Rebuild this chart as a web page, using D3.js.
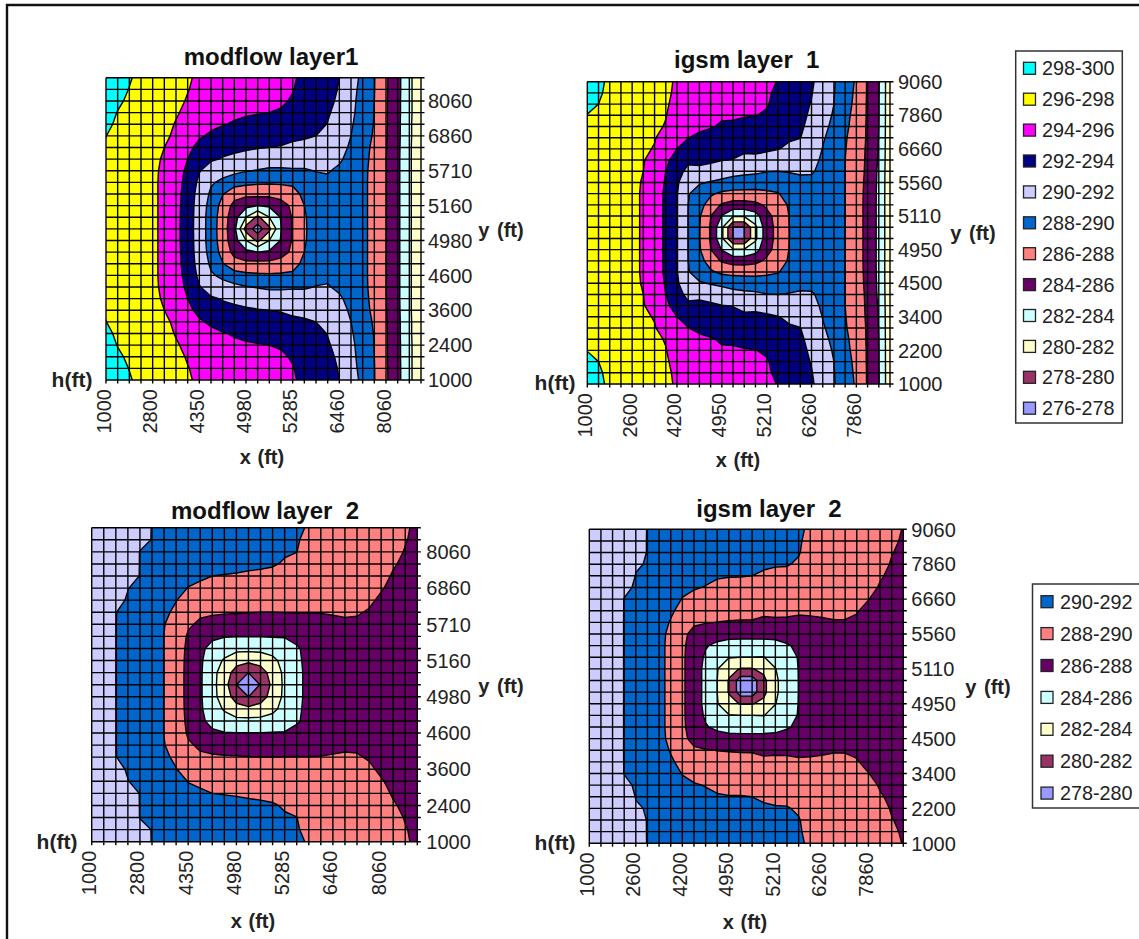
<!DOCTYPE html>
<html><head><meta charset="utf-8">
<script src="https://cdn.jsdelivr.net/npm/d3@7"></script>
<style>html,body{margin:0;background:#fff}svg{display:block}text{font-family:"Liberation Sans",Arial,sans-serif}</style>
</head><body><div id="c"></div>
<script>
const xLabelsModflow=["1000","2800","4350","4980","5285","6460","8060"];
const yLabelsModflow=["8060","6860","5710","5160","4980","4600","3600","2400","1000"];
const xLabelsIgsm=["1000","2600","4200","4950","5210","6260","7860"];
const yLabelsIgsm=["9060","7860","6660","5560","5110","4950","4500","3400","2200","1000"];
const legend1=["298-300","296-298","294-296","292-294","290-292","288-290","286-288","284-286","282-284","280-282","278-280","276-278"];
const legend2=["290-292","288-290","286-288","284-286","282-284","280-282","278-280"];
const bandColors1=["#00FFFF","#FFFF00","#FF00FF","#000080","#CCCCFF","#0066CC","#FF8080","#660066","#CCFFFF","#FFFFCC","#993366","#9999FF"];
const bandColors2=["#0066CC","#FF8080","#660066","#CCFFFF","#FFFFCC","#993366","#9999FF"];
const extraBand2="#CCCCFF";
// head (ft) at each grid node, one array per grid column, top row first
const modflowLayer1=[
[298.9,298.7,298.5,298.35,298.2,298.01,297.95,297.9,297.9,297.9,297.9,297.9,297.9,297.9,297.9,297.9,297.9,297.9,297.9,297.9,297.95,298.01,298.2,298.35,298.5,298.7,298.9],
[298.5,298.35,298.15,297.97,297.85,297.75,297.7,297.65,297.6,297.6,297.6,297.6,297.6,297.6,297.6,297.6,297.6,297.6,297.6,297.65,297.7,297.75,297.85,297.97,298.15,298.35,298.5],
[298.1,297.97,297.85,297.7,297.55,297.4,297.3,297.25,297.2,297.2,297.2,297.2,297.2,297.2,297.2,297.2,297.2,297.2,297.2,297.25,297.3,297.4,297.55,297.7,297.85,297.97,298.1],
[297.7,297.6,297.45,297.25,297.05,296.9,296.85,296.8,296.8,296.8,296.8,296.8,296.8,296.8,296.8,296.8,296.8,296.8,296.8,296.8,296.85,296.9,297.05,297.25,297.45,297.6,297.7],
[297.3,297.2,297,296.8,296.6,296.45,296.4,296.4,296.4,296.4,296.4,296.4,296.4,296.4,296.4,296.4,296.4,296.4,296.4,296.4,296.4,296.45,296.6,296.8,297,297.2,297.3],
[296.9,296.8,296.7,296.6,296.45,296.25,296,295.8,295.6,295.5,295.5,295.5,295.5,295.5,295.5,295.5,295.5,295.5,295.6,295.8,296,296.25,296.45,296.6,296.7,296.8,296.9],
[296.5,296.4,296.3,296.15,295.9,295.75,295.4,295.1,294.9,294.8,294.7,294.65,294.6,294.6,294.6,294.65,294.7,294.8,294.9,295.1,295.4,295.75,295.9,296.15,296.3,296.4,296.5],
[296.1,296.05,295.9,295.65,295.3,295,294.4,294,293.6,293.3,293.1,293,292.95,292.9,292.95,293,293.1,293.3,293.6,294,294.4,295,295.3,295.65,295.9,296.05,296.1],
[295.85,295.7,295.5,295.2,294.8,294.2,293.55,292.9,292.1,291.6,291.3,291.15,291.1,291.1,291.1,291.15,291.3,291.6,292.1,292.9,293.55,294.2,294.8,295.2,295.5,295.7,295.85],
[295.65,295.5,295.3,295,294.35,293.75,292.9,292.2,291.2,290.2,289.7,289.3,289.1,289.07,289.1,289.3,289.7,290.2,291.2,292.2,292.9,293.75,294.35,295,295.3,295.5,295.65],
[295.43,295.3,295.05,294.6,294.1,293.3,292.4,291.9,290.6,289.65,288.1,287.3,287,286.93,287,287.3,288.1,289.65,290.6,291.9,292.4,293.3,294.1,294.6,295.05,295.3,295.43],
[295.2,295,294.8,294.3,293.85,293.1,292.4,291.6,290.5,288.8,286.8,285.4,284.8,284.6,284.8,285.4,286.8,288.8,290.5,291.6,292.4,293.1,293.85,294.3,294.8,295,295.2],
[295,294.75,294.5,294.2,293.6,292.95,292.3,291.2,290.1,288.5,286.5,284.5,282,279.2,282,284.5,286.5,288.5,290.1,291.2,292.3,292.95,293.6,294.2,294.5,294.75,295],
[294.8,294.6,294.35,294.1,293.45,292.8,292.1,291.1,289.9,288.3,286.6,284,279.5,277,279.5,284,286.6,288.3,289.9,291.1,292.1,292.8,293.45,294.1,294.35,294.6,294.8],
[294.56,294.4,294.2,294,293.3,292.65,292,290.9,289.7,288.25,286.55,284.3,282,279.5,282,284.3,286.55,288.25,289.7,290.9,292,292.65,293.3,294,294.2,294.4,294.56],
[294.35,294.2,294.15,293.9,293.3,292.5,291.9,290.75,289.75,288.3,286.8,285.2,284.15,283.9,284.15,285.2,286.8,288.3,289.75,290.75,291.9,292.5,293.3,293.9,294.15,294.2,294.35],
[294.13,294.05,293.9,293.5,293,292.3,291.7,290.65,289.85,288.3,287.4,286.4,286.2,286.2,286.2,286.4,287.4,288.3,289.85,290.65,291.7,292.3,293,293.5,293.9,294.05,294.13],
[293.76,293.6,293.4,293.2,292.85,292.2,291.55,290.6,289.85,288.95,288.4,288,287.8,287.75,287.8,288,288.4,288.95,289.85,290.6,291.55,292.2,292.85,293.2,293.4,293.6,293.76],
[293.18,293.05,292.85,292.65,292.4,292,291.4,290.6,290.05,289.55,289.2,289,288.9,288.9,288.9,289,289.2,289.55,290.05,290.6,291.4,292,292.4,292.65,292.85,293.05,293.18],
[292.6,292.5,292.35,292.15,291.95,291.5,291.1,290.6,290.1,289.75,289.5,289.45,289.4,289.4,289.4,289.45,289.5,289.75,290.1,290.6,291.1,291.5,291.95,292.15,292.35,292.5,292.6],
[292,291.9,291.75,291.55,291.3,291,290.6,290.2,289.75,289.6,289.5,289.5,289.5,289.5,289.5,289.5,289.5,289.6,289.75,290.2,290.6,291,291.3,291.55,291.75,291.9,292],
[290.82,290.65,290.5,290.4,290.2,290,289.75,289.55,289.4,289.4,289.4,289.4,289.4,289.4,289.4,289.4,289.4,289.4,289.4,289.55,289.75,290,290.2,290.4,290.5,290.65,290.82],
[289.56,289.4,289.3,289.2,289.1,289,288.8,288.65,288.55,288.5,288.5,288.5,288.5,288.5,288.5,288.5,288.5,288.5,288.55,288.65,288.8,289,289.1,289.2,289.3,289.4,289.56],
[288.07,288.05,288,287.95,287.9,287.75,287.5,287.4,287.3,287.3,287.3,287.3,287.3,287.3,287.3,287.3,287.3,287.3,287.3,287.4,287.5,287.75,287.9,287.95,288,288.05,288.07],
[286.27,286.25,286.2,286.2,286.2,286.15,286.1,286.05,286.05,286.05,286.05,286.05,286.05,286.05,286.05,286.05,286.05,286.05,286.05,286.05,286.1,286.15,286.2,286.2,286.2,286.25,286.27],
[284.6,284.6,284.55,284.55,284.5,284.5,284.45,284.4,284.4,284.4,284.4,284.4,284.4,284.4,284.4,284.4,284.4,284.4,284.4,284.4,284.45,284.5,284.5,284.55,284.55,284.6,284.6],
[282.3,282.3,282.3,282.3,282.25,282.25,282.2,282.2,282.2,282.2,282.2,282.2,282.2,282.2,282.2,282.2,282.2,282.2,282.2,282.2,282.2,282.25,282.25,282.3,282.3,282.3,282.3],
[281,281,281,281,281,281,281,281,281,281,281,281,281,281,281,281,281,281,281,281,281,281,281,281,281,281,281]];
const igsmLayer1=[
[298.6,298.4,298.2,297.98,297.95,297.9,297.9,297.9,297.9,297.9,297.9,297.9,297.9,297.9,297.9,297.9,297.9,297.9,297.9,297.9,297.9,297.9,297.9,297.95,297.98,298.2,298.4,298.6],
[298.35,298.2,298,297.8,297.75,297.7,297.65,297.6,297.6,297.6,297.6,297.6,297.6,297.6,297.6,297.6,297.6,297.6,297.6,297.6,297.6,297.65,297.7,297.75,297.8,298,298.2,298.35],
[297.7,297.65,297.55,297.45,297.4,297.35,297.3,297.25,297.2,297.2,297.2,297.2,297.2,297.2,297.2,297.2,297.2,297.2,297.2,297.2,297.25,297.3,297.35,297.4,297.45,297.55,297.65,297.7],
[297.35,297.3,297.2,297.1,297,296.95,296.9,296.85,296.8,296.8,296.8,296.8,296.8,296.8,296.8,296.8,296.8,296.8,296.8,296.8,296.85,296.9,296.95,297,297.1,297.2,297.3,297.35],
[297,296.95,296.85,296.75,296.65,296.55,296.45,296.4,296.3,296.3,296.3,296.3,296.3,296.3,296.3,296.3,296.3,296.3,296.3,296.3,296.4,296.45,296.55,296.65,296.75,296.85,296.95,297],
[296.7,296.65,296.55,296.5,296.4,296.3,296.25,296.1,296,295.9,295.85,295.85,295.85,295.85,295.85,295.85,295.85,295.85,295.9,296,296.1,296.25,296.3,296.4,296.5,296.55,296.65,296.7],
[296.4,296.35,296.3,296.2,296.15,296.1,295.9,295.3,294.9,294.6,294.45,294.4,294.4,294.4,294.4,294.4,294.4,294.45,294.6,294.9,295.3,295.9,296.1,296.15,296.2,296.3,296.35,296.4],
[296.25,296.2,296.1,296.03,295.95,295.35,294.9,294.4,294,293.9,293.85,293.85,293.85,293.85,293.85,293.85,293.85,293.85,293.9,294,294.4,294.9,295.35,295.95,296.03,296.1,296.2,296.25],
[295.85,295.8,295.75,295.6,295.2,294.6,294,293.2,292.55,292.25,292.1,292.1,292.1,292.1,292.1,292.1,292.1,292.1,292.25,292.55,293.2,294,294.6,295.2,295.6,295.75,295.8,295.85],
[295.6,295.55,295.45,295.25,294.75,294.05,293.2,292.3,291.6,290.7,290.1,290,289.97,289.97,289.97,289.97,290,290.1,290.7,291.6,292.3,293.2,294.05,294.75,295.25,295.45,295.55,295.6],
[295.4,295.3,295.2,294.95,294.4,293.6,293,292.4,291.6,290.15,289.3,288.7,288.2,288.1,288.1,288.2,288.7,289.3,290.15,291.6,292.4,293,293.6,294.4,294.95,295.2,295.3,295.4],
[295.2,295.1,295,294.6,294.1,293.5,292.95,292.4,291,289.9,288.3,287.1,286.05,285.8,285.8,286.05,287.1,288.3,289.9,291,292.4,292.95,293.5,294.1,294.6,295,295.1,295.2],
[295,294.85,294.7,294.15,293.85,293.3,292.6,292.05,290.8,289.65,287.6,285.8,283.9,282.4,282.4,283.9,285.8,287.6,289.65,290.8,292.05,292.6,293.3,293.85,294.15,294.7,294.85,295],
[294.8,294.65,294.45,294.2,293.75,293.1,292.4,291.95,290.6,289.3,287.4,285.2,282.2,277.95,277.95,282.2,285.2,287.4,289.3,290.6,291.95,292.4,293.1,293.75,294.2,294.45,294.65,294.8],
[294.65,294.5,294.3,294.1,293.55,292.95,292.25,291.65,290.4,289.2,287.35,285.2,282.2,277.95,277.95,282.2,285.2,287.35,289.2,290.4,291.65,292.25,292.95,293.55,294.1,294.3,294.5,294.65],
[294.5,294.35,294.15,294.03,293.4,292.8,292.25,291.7,290.3,289.1,287.35,285.5,283.2,281.6,281.6,283.2,285.5,287.35,289.1,290.3,291.7,292.25,292.8,293.4,294.03,294.15,294.35,294.5],
[294.3,294.15,294.1,293.85,293.3,292.8,292.15,291.6,290.05,289,287.6,286.3,285.45,285.2,285.2,285.45,286.3,287.6,289,290.05,291.6,292.15,292.8,293.3,293.85,294.1,294.15,294.3],
[293.95,293.8,293.6,293.4,293,292.5,292.05,291.3,290,288.9,287.9,287.1,286.65,286.53,286.53,286.65,287.1,287.9,288.9,290,291.3,292.05,292.5,293,293.4,293.6,293.8,293.95],
[293.4,293.25,293.05,292.85,292.55,292.15,291.75,291,290.1,289.2,288.6,288.2,288.02,287.97,287.97,288.02,288.2,288.6,289.2,290.1,291,291.75,292.15,292.55,292.85,293.05,293.25,293.4],
[292.85,292.75,292.6,292.45,292.25,292.03,291.5,290.95,290.2,289.6,289.1,288.9,288.8,288.8,288.8,288.8,288.9,289.1,289.6,290.2,290.95,291.5,292.03,292.25,292.45,292.6,292.75,292.85],
[292.3,292.1,291.9,291.7,291.5,291.2,290.9,290.6,290.2,289.5,289.3,289.2,289.2,289.2,289.2,289.2,289.2,289.3,289.5,290.2,290.6,290.9,291.2,291.5,291.7,291.9,292.1,292.3],
[291,290.9,290.75,290.6,290.4,290.15,289.95,289.7,289.5,289.4,289.35,289.35,289.35,289.35,289.35,289.35,289.35,289.35,289.4,289.5,289.7,289.95,290.15,290.4,290.6,290.75,290.9,291],
[290.2,290.1,290,289.85,289.65,289.45,289.25,289.15,289.2,289.2,289.2,289.2,289.2,289.2,289.2,289.2,289.2,289.2,289.2,289.2,289.15,289.25,289.45,289.65,289.85,290,290.1,290.2],
[288.4,288.35,288.3,288.25,288.2,288.1,288.05,288,287.97,287.97,287.97,287.97,287.97,287.97,287.97,287.97,287.97,287.97,287.97,287.97,288,288.05,288.1,288.2,288.25,288.3,288.35,288.4],
[287.9,287.85,287.8,287.7,287.6,287.5,287.4,287.3,287.2,287.1,287,287,287,287,287,287,287,287,287.1,287.2,287.3,287.4,287.5,287.6,287.7,287.8,287.85,287.9],
[285.8,285.8,285.75,285.75,285.7,285.7,285.6,285.55,285.5,285.4,285.35,285.3,285.3,285.3,285.3,285.3,285.3,285.35,285.4,285.5,285.55,285.6,285.7,285.7,285.75,285.75,285.8,285.8],
[284.1,284.1,284.05,284.05,284,283.95,283.9,283.8,283.7,283.65,283.6,283.6,283.6,283.6,283.6,283.6,283.6,283.6,283.65,283.7,283.8,283.9,283.95,284,284.05,284.05,284.1,284.1],
[280.6,280.6,280.6,280.6,280.6,280.6,280.6,280.6,280.6,280.6,280.6,280.6,280.6,280.6,280.6,280.6,280.6,280.6,280.6,280.6,280.6,280.6,280.6,280.6,280.6,280.6,280.6,280.6]];
const modflowLayer2=[
[293.2,293.15,293.1,293.05,293,292.95,292.9,292.85,292.8,292.8,292.8,292.8,292.8,292.8,292.8,292.8,292.8,292.8,292.8,292.85,292.9,292.95,293,293.05,293.1,293.15,293.2],
[293,292.95,292.9,292.85,292.8,292.7,292.6,292.5,292.4,292.4,292.4,292.4,292.4,292.4,292.4,292.4,292.4,292.4,292.4,292.5,292.6,292.7,292.8,292.85,292.9,292.95,293],
[292.8,292.75,292.7,292.65,292.6,292.4,292.3,292.03,292.03,292.03,292.03,292.03,292.03,292.03,292.03,292.03,292.03,292.03,292.03,292.03,292.3,292.4,292.6,292.65,292.7,292.75,292.8],
[292.5,292.5,292.45,292.4,292.3,292.03,291.9,291.6,291.4,291.4,291.4,291.4,291.4,291.4,291.4,291.4,291.4,291.4,291.4,291.6,291.9,292.03,292.3,292.4,292.45,292.5,292.5],
[292.25,292.2,291.98,291.98,291.98,291.7,291.5,291.2,291,291,291,291,291,291,291,291,291,291,291,291.2,291.5,291.7,291.98,291.98,291.98,292.2,292.25],
[291.98,291.98,291.8,291.65,291.5,291.3,291.1,290.9,290.7,290.6,290.6,290.6,290.6,290.6,290.6,290.6,290.6,290.6,290.7,290.9,291.1,291.3,291.5,291.65,291.8,291.98,291.98],
[291.8,291.65,291.45,291.25,291.05,290.85,290.55,290.3,290.05,289.98,289.98,289.98,289.98,289.98,289.98,289.98,289.98,289.98,290.05,290.3,290.55,290.85,291.05,291.25,291.45,291.65,291.8],
[291.65,291.5,291.25,291,290.65,290.35,290.05,289.7,289.45,289.3,289.3,289.3,289.3,289.3,289.3,289.3,289.3,289.3,289.45,289.7,290.05,290.35,290.65,291,291.25,291.5,291.65],
[291.5,291.3,291.05,290.75,290.25,289.97,289.4,288.9,288.25,287.75,287.5,287.35,287.3,287.3,287.3,287.35,287.5,287.75,288.25,288.9,289.4,289.97,290.25,290.75,291.05,291.3,291.5],
[291.35,291.15,290.9,290.6,290.15,289.8,289.2,288.3,287.7,287,286.5,286.3,286.25,286.25,286.25,286.3,286.5,287,287.7,288.3,289.2,289.8,290.15,290.6,290.9,291.15,291.35],
[291.2,291,290.75,290.45,290,289.6,289,288.25,287.3,286.4,285.3,284.85,284.65,284.6,284.65,284.85,285.3,286.4,287.3,288.25,289,289.6,290,290.45,290.75,291,291.2],
[291.05,290.9,290.65,290.35,289.95,289.45,288.85,288.15,287.2,286.1,284.8,283.8,283,282.86,283,283.8,284.8,286.1,287.2,288.15,288.85,289.45,289.95,290.35,290.65,290.9,291.05],
[290.9,290.75,290.55,290.3,289.9,289.3,288.75,288.1,287.15,286.05,284.55,282.7,281.2,280,281.2,282.7,284.55,286.05,287.15,288.1,288.75,289.3,289.9,290.3,290.55,290.75,290.9],
[290.75,290.6,290.45,290.27,289.8,289.2,288.65,288.05,287.1,286.03,284.55,282.45,280,278.5,280,282.45,284.55,286.03,287.1,288.05,288.65,289.2,289.8,290.27,290.45,290.6,290.75],
[290.6,290.5,290.35,290.2,289.75,289.15,288.6,288,287.1,286.05,284.6,282.7,281.2,280.1,281.2,282.7,284.6,286.05,287.1,288,288.6,289.15,289.75,290.2,290.35,290.5,290.6],
[290.45,290.35,290.25,290.1,289.7,289.1,288.55,288,287.15,286.1,284.8,283.5,282.7,282.5,282.7,283.5,284.8,286.1,287.15,288,288.55,289.1,289.7,290.1,290.25,290.35,290.45],
[290.3,290.25,290.1,289.9,289.6,289.05,288.5,288.03,287.2,286.1,285.2,284.7,284.45,284.4,284.45,284.7,285.2,286.1,287.2,288.03,288.5,289.05,289.6,289.9,290.1,290.25,290.3],
[290.1,290.05,290.01,289.8,289.55,289,288.5,288.05,287.3,286.5,285.8,285.75,285.7,285.7,285.7,285.75,285.8,286.5,287.3,288.05,288.5,289,289.55,289.8,290.01,290.05,290.1],
[289.95,289.85,289.75,289.6,289.4,288.95,288.5,288.03,287.4,286.9,286.5,286.35,286.3,286.3,286.3,286.35,286.5,286.9,287.4,288.03,288.5,288.95,289.4,289.6,289.75,289.85,289.95],
[289.85,289.7,289.6,289.5,289.3,289,288.55,288.05,287.5,287.1,286.85,286.75,286.7,286.7,286.7,286.75,286.85,287.1,287.5,288.05,288.55,289,289.3,289.5,289.6,289.7,289.85],
[289.75,289.6,289.5,289.4,289.25,289,288.6,288.1,287.7,287.3,287.1,287,287,287,287,287,287.1,287.3,287.7,288.1,288.6,289,289.25,289.4,289.5,289.6,289.75],
[289.6,289.5,289.4,289.3,289.15,288.95,288.6,288.15,287.8,287.5,287.3,287.2,287.2,287.2,287.2,287.2,287.3,287.5,287.8,288.15,288.6,288.95,289.15,289.3,289.4,289.5,289.6],
[289.5,289.4,289.3,289.2,289,288.8,288.45,288.1,287.8,287.55,287.35,287.3,287.3,287.3,287.3,287.3,287.35,287.55,287.8,288.1,288.45,288.8,289,289.2,289.3,289.4,289.5],
[289.3,289.25,289.15,289,288.8,288.6,288.2,287.9,287.65,287.5,287.4,287.4,287.4,287.4,287.4,287.4,287.4,287.5,287.65,287.9,288.2,288.6,288.8,289,289.15,289.25,289.3],
[289.1,289,288.9,288.7,288.45,288.1,287.8,287.65,287.55,287.5,287.5,287.5,287.5,287.5,287.5,287.5,287.5,287.5,287.55,287.65,287.8,288.1,288.45,288.7,288.9,289,289.1],
[288.9,288.75,288.5,288.15,287.85,287.7,287.6,287.55,287.5,287.5,287.5,287.5,287.5,287.5,287.5,287.5,287.5,287.5,287.5,287.55,287.6,287.7,287.85,288.15,288.5,288.75,288.9],
[288.25,288.1,287.9,287.7,287.6,287.55,287.5,287.5,287.5,287.5,287.5,287.5,287.5,287.5,287.5,287.5,287.5,287.5,287.5,287.5,287.5,287.55,287.6,287.7,287.9,288.1,288.25],
[287.6,287.6,287.55,287.5,287.5,287.5,287.5,287.5,287.5,287.5,287.5,287.5,287.5,287.5,287.5,287.5,287.5,287.5,287.5,287.5,287.5,287.5,287.5,287.5,287.55,287.6,287.6]];
const igsmLayer2=[
[293.4,293.35,293.3,293.25,293.2,293.15,293.1,293.05,293,293,293,293,293,293,293,293,293,293,293,293,293.05,293.1,293.15,293.2,293.25,293.3,293.35,293.4],
[293.15,293.1,293.05,293,292.95,292.9,292.85,292.8,292.7,292.7,292.7,292.7,292.7,292.7,292.7,292.7,292.7,292.7,292.7,292.7,292.8,292.85,292.9,292.95,293,293.05,293.1,293.15],
[292.8,292.75,292.7,292.65,292.6,292.55,292.5,292.4,292.35,292.35,292.35,292.35,292.35,292.35,292.35,292.35,292.35,292.35,292.35,292.35,292.4,292.5,292.55,292.6,292.65,292.7,292.75,292.8],
[292.5,292.5,292.45,292.4,292.35,292.2,291.98,291.98,291.98,291.98,291.98,291.98,291.98,291.98,291.98,291.98,291.98,291.98,291.98,291.98,291.98,291.98,292.2,292.35,292.4,292.45,292.5,292.5],
[292.25,292.2,292.2,292.05,291.98,291.9,291.8,291.7,291.5,291.5,291.5,291.5,291.5,291.5,291.5,291.5,291.5,291.5,291.5,291.5,291.7,291.8,291.9,291.98,292.05,292.2,292.2,292.25],
[291.98,291.98,291.98,291.97,291.75,291.6,291.45,291.3,291.1,291,291,291,291,291,291,291,291,291,291,291.1,291.3,291.45,291.6,291.75,291.97,291.98,291.98,291.98],
[291.8,291.7,291.6,291.5,291.3,291.15,291,290.8,290.6,290.45,290.4,290.4,290.4,290.4,290.4,290.4,290.4,290.4,290.45,290.6,290.8,291,291.15,291.3,291.5,291.6,291.7,291.8],
[291.65,291.55,291.4,291.25,291,290.8,290.55,290.2,289.9,289.65,289.6,289.6,289.6,289.6,289.6,289.6,289.6,289.6,289.65,289.9,290.2,290.55,290.8,291,291.25,291.4,291.55,291.65],
[291.5,291.4,291.25,291.05,290.75,290.3,289.95,289.6,289.05,288.5,288.35,288.3,288.3,288.3,288.3,288.3,288.3,288.35,288.5,289.05,289.6,289.95,290.3,290.75,291.05,291.25,291.4,291.5],
[291.35,291.25,291.1,290.85,290.55,290.1,289.65,289.2,288.3,287.4,287.1,287,287,287,287,287,287,287.1,287.4,288.3,289.2,289.65,290.1,290.55,290.85,291.1,291.25,291.35],
[291.2,291.1,290.95,290.65,290.25,289.95,289.5,288.9,288.1,287,286.15,285.75,285.5,285.5,285.5,285.5,285.75,286.15,287,288.1,288.9,289.5,289.95,290.25,290.65,290.95,291.1,291.2],
[291.05,290.95,290.75,290.5,290.1,289.75,289.3,288.7,287.97,286.8,285.6,284.7,284.1,284,284,284.1,284.7,285.6,286.8,287.97,288.7,289.3,289.75,290.1,290.5,290.75,290.95,291.05],
[290.9,290.8,290.6,290.35,290.05,289.65,289.2,288.65,287.9,286.7,285.2,284.1,282.6,281.86,281.86,282.6,284.1,285.2,286.7,287.9,288.65,289.2,289.65,290.05,290.35,290.6,290.8,290.9],
[290.75,290.65,290.5,290.25,290.05,289.6,289.15,288.6,287.85,286.6,285.2,284,281.9,279,279,281.9,284,285.2,286.6,287.85,288.6,289.15,289.6,290.05,290.25,290.5,290.65,290.75],
[290.6,290.5,290.35,290.2,290,289.55,289.1,288.55,287.85,286.6,285.2,284,281.9,279,279,281.9,284,285.2,286.6,287.85,288.55,289.1,289.55,290,290.2,290.35,290.5,290.6],
[290.5,290.4,290.3,290.1,289.9,289.5,289.05,288.4,287.6,286.6,285.25,283.95,282.5,281.5,281.5,282.5,283.95,285.25,286.6,287.6,288.4,289.05,289.5,289.9,290.1,290.3,290.4,290.5],
[290.4,290.3,290.2,290.05,289.85,289.45,289,288.4,287.7,286.4,285.6,284.7,283.95,283.7,283.7,283.95,284.7,285.6,286.4,287.7,288.4,289,289.45,289.85,290.05,290.2,290.3,290.4],
[290.3,290.25,290.15,290.05,289.8,289.4,289,288.35,287.7,286.7,285.85,285.3,285,284.9,284.9,285,285.3,285.85,286.7,287.7,288.35,289,289.4,289.8,290.05,290.15,290.25,290.3],
[290.2,290.1,290.05,289.9,289.7,289.35,288.9,288.3,287.5,286.9,286.3,286.1,286.05,286.03,286.03,286.05,286.1,286.3,286.9,287.5,288.3,288.9,289.35,289.7,289.9,290.05,290.1,290.2],
[289.8,289.75,289.7,289.6,289.45,289.2,288.85,288.2,287.75,287.2,286.8,286.65,286.6,286.6,286.6,286.6,286.65,286.8,287.2,287.75,288.2,288.85,289.2,289.45,289.6,289.7,289.75,289.8],
[289.7,289.65,289.55,289.45,289.3,289.1,288.8,288.2,287.85,287.4,287.15,287,287,287,287,287,287,287.15,287.4,287.85,288.2,288.8,289.1,289.3,289.45,289.55,289.65,289.7],
[289.6,289.5,289.4,289.3,289.2,289,288.7,288.2,287.94,287.6,287.35,287.2,287.2,287.2,287.2,287.2,287.2,287.35,287.6,287.94,288.2,288.7,289,289.2,289.3,289.4,289.5,289.6],
[289.45,289.4,289.3,289.2,289.05,288.85,288.55,288.15,287.95,287.7,287.5,287.4,287.4,287.4,287.4,287.4,287.4,287.5,287.7,287.95,288.15,288.55,288.85,289.05,289.2,289.3,289.4,289.45],
[289.3,289.25,289.15,289,288.85,288.6,288.3,288.05,287.88,287.7,287.55,287.5,287.5,287.5,287.5,287.5,287.5,287.55,287.7,287.88,288.05,288.3,288.6,288.85,289,289.15,289.25,289.3],
[289.15,289.05,288.95,288.8,288.6,288.35,288.02,287.8,287.7,287.6,287.55,287.55,287.55,287.55,287.55,287.55,287.55,287.55,287.6,287.7,287.8,288.02,288.35,288.6,288.8,288.95,289.05,289.15],
[288.95,288.8,288.65,288.4,288.1,287.9,287.75,287.7,287.6,287.55,287.55,287.55,287.55,287.55,287.55,287.55,287.55,287.55,287.55,287.6,287.7,287.75,287.9,288.1,288.4,288.65,288.8,288.95],
[288.65,288.3,288.05,287.9,287.8,287.7,287.65,287.6,287.6,287.6,287.6,287.6,287.6,287.6,287.6,287.6,287.6,287.6,287.6,287.6,287.6,287.65,287.7,287.8,287.9,288.05,288.3,288.65],
[287.9,287.8,287.75,287.7,287.7,287.65,287.6,287.6,287.6,287.6,287.6,287.6,287.6,287.6,287.6,287.6,287.6,287.6,287.6,287.6,287.6,287.6,287.65,287.7,287.7,287.75,287.8,287.9]];
const thresholds1=d3.range(278,300,2), thresholds2=d3.range(280,294,2);
const colors1=bandColors1.slice(0,11).reverse();
const colors2=bandColors2.slice(0,6).reverse().concat([extraBand2]);
const panels=[
 {title:"modflow layer1",cols:modflowLayer1,th:thresholds1,colors:colors1,xl:xLabelsModflow,yl:yLabelsModflow,ys:2,box:[106,77.7,421,380],t:[271,57],xt:[262,457],yt:[501,230],ht:[72,380],lab:7},
 {title:"igsm layer  1",cols:igsmLayer1,th:thresholds1,colors:colors1,xl:xLabelsIgsm,yl:yLabelsIgsm,ys:0,box:[587.3,81.7,890,384],t:[746.7,60],xt:[738,460],yt:[973,233],ht:[555,383],lab:8},
 {title:"modflow layer  2",cols:modflowLayer2,th:thresholds2,colors:colors2,xl:xLabelsModflow,yl:yLabelsModflow,ys:2,box:[91.7,527.7,417.3,841.7],t:[265,510.7],xt:[253,921],yt:[501,686],ht:[57,842],lab:9},
 {title:"igsm layer  2",cols:igsmLayer2,th:thresholds2,colors:colors2,xl:xLabelsIgsm,yl:yLabelsIgsm,ys:0,box:[589.3,529.3,903.3,843.3],t:[769,509],xt:[745,922],yt:[988,687],ht:[555,843],lab:8}];
const svg=d3.select("#c").append("svg").attr("width",1139).attr("height",939);
svg.append("path").attr("d","M7,939V5H1139").attr("fill","none").attr("stroke","#111").attr("stroke-width",2.4);
const txt=(s,x,y,size,bold,fill)=>svg.append("text").attr("x",x).attr("y",y).attr("dy",".35em").attr("text-anchor","middle").attr("font-size",size).attr("font-weight",bold?"bold":"normal").attr("fill",fill||"#111").style("white-space","pre").text(s);
panels.forEach((p,k)=>{
 const nx=p.cols.length,ny=p.cols[0].length,[x0,y0,x1,y1]=p.box;
 const x=d3.scaleLinear([0,nx-1],[x0,x1]),y=d3.scaleLinear([0,ny-1],[y0,y1]);
 const values=new Array(nx*ny);
 p.cols.forEach((c,i)=>c.forEach((v,j)=>values[j*nx+i]=v));
 const contours=d3.contours().size([nx,ny]).smooth(true).thresholds(p.th)(values);
 const path=d3.geoPath(d3.geoTransform({point(a,b){this.stream.point(x(a-.5),y(b-.5));}}));
 svg.append("clipPath").attr("id","cp"+k).append("rect").attr("x",x0).attr("y",y0).attr("width",x1-x0).attr("height",y1-y0);
 const g=svg.append("g").attr("clip-path",`url(#cp${k})`);
 g.append("rect").attr("x",x0).attr("y",y0).attr("width",x1-x0).attr("height",y1-y0).attr("fill",bandColors1[11]);
 g.selectAll("path").data(contours).join("path").attr("d",path).attr("fill",(d,i)=>p.colors[i]).attr("stroke","#000").attr("stroke-width",1.4).attr("stroke-linejoin","round");
 svg.append("g").selectAll("line").data(d3.range(nx)).join("line").attr("x1",d=>x(d)).attr("x2",d=>x(d)).attr("y1",y0).attr("y2",y1+3.5).attr("stroke","#000").attr("stroke-width",1.4);
 svg.append("g").selectAll("line").data(d3.range(ny)).join("line").attr("y1",d=>y(d)).attr("y2",d=>y(d)).attr("x1",x0).attr("x2",x1+3.5).attr("stroke","#000").attr("stroke-width",1.4);
 p.yl.forEach((s,q)=>svg.append("text").attr("x",x1+p.lab).attr("y",y(p.ys+3*q)).attr("dy",".36em").attr("font-size",20).attr("fill","#222").text(s));
 p.xl.forEach((s,q)=>svg.append("text").attr("transform",`translate(${x(4*q)-2.7},${y1+9}) rotate(-90)`).attr("dy",".36em").attr("text-anchor","end").attr("font-size",20).attr("fill","#222").text(s));
 txt(p.title,p.t[0],p.t[1],24,true);
 txt("x (ft)",p.xt[0],p.xt[1],20,true,"#222").attr("word-spacing",1);
 txt("y (ft)",p.yt[0],p.yt[1],20,true,"#222").attr("word-spacing",2);
 txt("h(ft)",p.ht[0],p.ht[1],21,true,"#222");
});
function legend(labels,cols,bx,by,bw,bh,first,step,sx,tx){
 svg.append("rect").attr("x",bx).attr("y",by).attr("width",bw).attr("height",bh).attr("fill","#fff").attr("stroke","#333").attr("stroke-width",1.5);
 labels.forEach((s,i)=>{const yy=first+i*step;
  svg.append("rect").attr("x",sx).attr("y",yy-6).attr("width",12).attr("height",12).attr("fill",cols[i]).attr("stroke","#222").attr("stroke-width",1.3);
  svg.append("text").attr("x",tx).attr("y",yy).attr("dy",".36em").attr("font-size",19.8).attr("fill","#222").text(s);});
}
legend(legend1,bandColors1,1015.7,51,106.6,372,68.3,30.9,1023.5,1042);
legend(legend2,bandColors2,1032.5,584,110,224,601.7,31.9,1041,1060);
</script></body></html>
